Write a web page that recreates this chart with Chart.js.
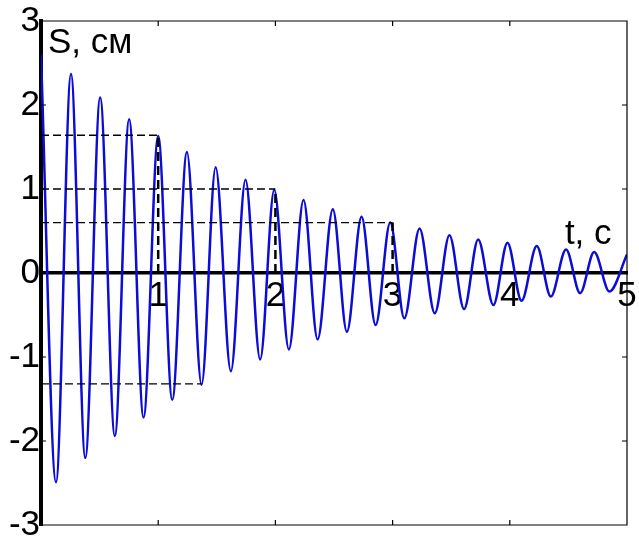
<!DOCTYPE html>
<html lang="ru">
<head>
    <meta charset="UTF-8">
    <title>Затухающие колебания</title>
    <script src="https://cdn.jsdelivr.net/npm/chart.js"></script>
    <style>
        html, body { margin: 0; padding: 0; background: #fff; }
        #wrap { width: 639px; height: 544px; }
    </style>
</head>
<body>
    <div id="wrap"><canvas id="oscChart"></canvas></div>
    <script>
// extrema of the curve (t in s, S in cm)
const timeValues = [0, 0.128, 0.256, 0.378, 0.505, 0.63, 0.752, 0.875, 1.0, 1.12,
    1.245, 1.37, 1.49, 1.62, 1.745, 1.87, 1.99, 2.115, 2.24, 2.36,
    2.49, 2.61, 2.735, 2.855, 2.98, 3.1, 3.23, 3.36, 3.485, 3.61,
    3.73, 3.86, 3.98, 4.1, 4.23, 4.35, 4.48, 4.6, 4.72, 4.85, 5.0];
const displacement = [2.6, -2.49, 2.37, -2.2, 2.09, -1.94, 1.83, -1.72, 1.63, -1.51,
    1.44, -1.33, 1.26, -1.17, 1.11, -1.03, 0.99, -0.91, 0.87, -0.79,
    0.76, -0.7, 0.67, -0.62, 0.6, -0.54, 0.53, -0.48, 0.45, -0.43,
    0.4, -0.38, 0.36, -0.33, 0.32, -0.28, 0.28, -0.24, 0.25, -0.22, 0.22];

// dashed guides to the peaks at t = 1, 2, 3 s
const guideTimes = [1, 2, 3];
const guidePeaks = [1.64, 1.0, 0.6];
// dashed guide to the trough
const troughTime = 1.37;
const troughValue = -1.32;

const xTicks = [1, 2, 3, 4, 5];
const yTicks = [-3, -2, -1, 0, 1, 2, 3];

const FONT = '"Liberation Sans", Arial, sans-serif';

const curve = timeValues.map((t, i) => ({ x: t, y: displacement[i] }));

const guides = [];
guideTimes.forEach((t, i) => {
    guides.push({ data: [{ x: 0, y: guidePeaks[i] }, { x: t, y: guidePeaks[i] }], borderWidth: 1.3, borderDash: [8, 4] });
    guides.push({ data: [{ x: t, y: 0 }, { x: t, y: guidePeaks[i] }], borderWidth: 2.5, borderDash: [9, 5] });
});
guides.push({ data: [{ x: 0, y: troughValue }, { x: troughTime, y: troughValue }], borderWidth: 1.3, borderDash: [8, 4] });

const guideSets = guides.map(g => ({
    data: g.data,
    borderColor: '#000',
    borderWidth: g.borderWidth,
    borderDash: g.borderDash,
    pointRadius: 0,
    tension: 0
}));

// frame, small ticks and the axis names
const framePlugin = {
    id: 'frame',
    afterDraw(chart) {
        const { ctx, chartArea: a, scales } = chart;
        ctx.save();
        ctx.strokeStyle = '#000';
        ctx.lineWidth = 1.2;
        ctx.beginPath();
        ctx.moveTo(a.left, a.top); ctx.lineTo(a.right, a.top);
        ctx.lineTo(a.right, a.bottom); ctx.lineTo(a.left, a.bottom);
        xTicks.forEach(v => {
            const px = scales.x.getPixelForValue(v);
            ctx.moveTo(px, a.top); ctx.lineTo(px, a.top + 5);
            ctx.moveTo(px, a.bottom); ctx.lineTo(px, a.bottom - 5);
        });
        yTicks.forEach(v => {
            const py = scales.y.getPixelForValue(v);
            ctx.moveTo(a.left, py); ctx.lineTo(a.left + 5, py);
            ctx.moveTo(a.right, py); ctx.lineTo(a.right - 5, py);
        });
        ctx.stroke();

        ctx.fillStyle = '#000';
        ctx.font = '35px ' + FONT;
        ctx.textBaseline = 'alphabetic';
        ctx.fillText('S, см', a.left + 7, a.top + 32);
        ctx.fillText('t, с', scales.x.getPixelForValue(4.47), scales.y.getPixelForValue(0.35));
        ctx.restore();
    }
};

new Chart(document.getElementById('oscChart'), {
    type: 'line',
    data: {
        datasets: [...guideSets, {
            data: curve,
            borderColor: '#0c0cd6',
            borderWidth: 2.5,
            pointRadius: 0,
            cubicInterpolationMode: 'monotone'
        }]
    },
    options: {
        responsive: true,
        maintainAspectRatio: false,
        animation: false,
        layout: { padding: { top: 21, right: 12, bottom: 19, left: 0 } },
        plugins: { legend: { display: false }, tooltip: { enabled: false } },
        scales: {
            x: {
                type: 'linear',
                min: 0,
                max: 5,
                position: { y: 0 },
                grid: { display: false, drawTicks: false },
                border: { color: '#000', width: 3.5 },
                ticks: {
                    stepSize: 1,
                    padding: 2,
                    color: '#000',
                    font: { family: FONT, size: 35 },
                    maxRotation: 0,
                    callback: v => (xTicks.includes(v) ? String(v) : '')
                }
            },
            y: {
                min: -3,
                max: 3,
                position: 'left',
                grid: { display: false, drawTicks: false },
                border: { color: '#000', width: 4 },
                ticks: {
                    stepSize: 1,
                    padding: 1,
                    color: '#000',
                    font: { family: FONT, size: 35, lineHeight: 1 }
                },
                afterFit: s => { s.width = 41; }
            }
        }
    },
    plugins: [framePlugin]
});
    </script>
</body>
</html>
